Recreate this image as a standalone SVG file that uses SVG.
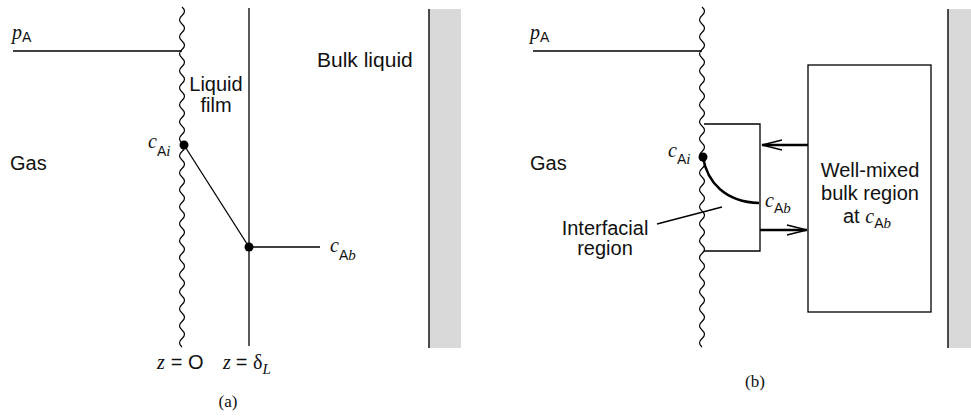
<svg xmlns="http://www.w3.org/2000/svg" width="971" height="418" viewBox="0 0 971 418">
  <style>
    .ln { stroke: #000; stroke-width: 1.3; fill: none; }
    .wave { stroke: #000; stroke-width: 1.2; fill: none; }
    .thick { stroke: #000; stroke-width: 2.4; fill: none; }
    .wall { fill: #d9d9d9; }
    .edge { stroke: #222; stroke-width: 1.6; }
    .t { font-family: "Liberation Sans", "Noto Sans", sans-serif; font-size: 20px; font-style: normal; fill: #111; }
    .v { font-family: "Liberation Serif", serif; font-style: italic; font-size: 20px; fill: #111; }
    .sub { font-family: "Liberation Sans", sans-serif; font-size: 14px; font-style: normal; }
    .subi { font-family: "Liberation Serif", serif; font-size: 15px; font-style: italic; }
    .cap { font-family: "Liberation Serif", serif; font-size: 17px; fill: #111; }
  </style>
  <defs>
    <marker id="chev" viewBox="0 0 22 12" refX="21" refY="6" markerWidth="22" markerHeight="12" markerUnits="userSpaceOnUse" orient="auto">
      <path d="M1,1 L21,6 L1,11" fill="none" stroke="#000" stroke-width="1.6"/>
    </marker>
    <!-- wavy interface line: 40 half-waves of 8.5 px -->
    <path id="wavy" d="M0,0 q5,4.25 0,8.5 t0,8.5 t0,8.5 t0,8.5 t0,8.5 t0,8.5 t0,8.5 t0,8.5 t0,8.5 t0,8.5 t0,8.5 t0,8.5 t0,8.5 t0,8.5 t0,8.5 t0,8.5 t0,8.5 t0,8.5 t0,8.5 t0,8.5 t0,8.5 t0,8.5 t0,8.5 t0,8.5 t0,8.5 t0,8.5 t0,8.5 t0,8.5 t0,8.5 t0,8.5 t0,8.5 t0,8.5 t0,8.5 t0,8.5 t0,8.5 t0,8.5 t0,8.5 t0,8.5 t0,8.5 t0,8.5"/>
  </defs>

  <!-- Panel (a): stagnant liquid film -->
  <g id="a-walls">
    <rect class="wall" x="429" y="9" width="32" height="339"/>
    <line class="edge" x1="429" y1="9" x2="429" y2="348"/>
  </g>
  <g id="a-interface">
    <use href="#wavy" class="wave" x="182" y="7"/>
  </g>
  <g id="a-film-edge">
    <line class="ln" x1="249" y1="8" x2="249" y2="346"/>
  </g>
  <g id="a-profile">
    <line class="ln" x1="13" y1="51" x2="182" y2="51"/>
    <line class="ln" x1="184" y1="145" x2="249" y2="247"/>
    <line class="ln" x1="249" y1="247" x2="320" y2="247"/>
    <circle cx="184" cy="145" r="4.5" fill="#000"/>
    <circle cx="249" cy="247" r="4.5" fill="#000"/>
  </g>
  <g id="a-labels">
    <text class="v" x="12" y="39">p<tspan class="sub" dy="3">A</tspan></text>
    <text class="t" x="10" y="170">Gas</text>
    <text class="t" x="216" y="91" text-anchor="middle">Liquid</text>
    <text class="t" x="216" y="112" text-anchor="middle">film</text>
    <text class="t" x="317" y="67" style="font-size:21px">Bulk liquid</text>
    <text class="v" x="148" y="148">c<tspan class="sub" dy="8">A</tspan><tspan class="subi">i</tspan></text>
    <text class="v" x="330" y="252">c<tspan class="sub" dy="8">A</tspan><tspan class="subi">b</tspan></text>
    <text class="v" x="157" y="369">z<tspan class="t" dx="6">= O</tspan></text>
    <text class="v" x="223" y="369">z<tspan class="t" dx="5">= </tspan><tspan style="font-style:normal">δ</tspan><tspan class="subi" dy="5">L</tspan></text>
    <text class="cap" x="228" y="407" text-anchor="middle">(a)</text>
  </g>

  <!-- Panel (b): interfacial region and well-mixed bulk -->
  <g id="b-walls">
    <rect class="wall" x="948" y="9" width="23" height="339"/>
    <line class="edge" x1="948" y1="9" x2="948" y2="348"/>
  </g>
  <g id="b-interface">
    <use href="#wavy" class="wave" x="702" y="7"/>
    <line class="ln" x1="533" y1="51" x2="702" y2="51"/>
  </g>
  <g id="interfacial-region">
    <polyline class="ln" points="704,124 760,124 760,251 704,251"/>
  </g>
  <g id="bulk-region">
    <rect class="ln" x="808" y="65" width="123" height="247"/>
    <text class="t" x="870" y="177" text-anchor="middle">Well-mixed</text>
    <text class="t" x="870" y="200" text-anchor="middle">bulk region</text>
    <text class="t" x="843" y="223">at <tspan class="v">c</tspan><tspan class="sub" dy="5">A</tspan><tspan class="subi">b</tspan></text>
  </g>
  <g id="connectors">
    <line class="thick" x1="808" y1="145" x2="762" y2="145" stroke-width="2" marker-end="url(#chev)"/>
    <line class="thick" x1="760" y1="230" x2="807" y2="230" stroke-width="2" marker-end="url(#chev)"/>
    <line class="ln" x1="657" y1="224" x2="722" y2="207" stroke-width="1"/>
  </g>
  <g id="b-profile">
    <path class="thick" d="M703,157 C707,182 725,202 759,203"/>
    <circle cx="703" cy="157" r="4.5" fill="#000"/>
  </g>
  <g id="b-labels">
    <text class="v" x="530" y="39">p<tspan class="sub" dy="3">A</tspan></text>
    <text class="t" x="530" y="170">Gas</text>
    <text class="v" x="668" y="157">c<tspan class="sub" dy="7">A</tspan><tspan class="subi">i</tspan></text>
    <text class="v" x="765" y="207">c<tspan class="sub" dy="6">A</tspan><tspan class="subi">b</tspan></text>
    <text class="t" x="605" y="235" text-anchor="middle">Interfacial</text>
    <text class="t" x="605" y="255" text-anchor="middle">region</text>
    <text class="cap" x="755" y="387" text-anchor="middle">(b)</text>
  </g>
</svg>
